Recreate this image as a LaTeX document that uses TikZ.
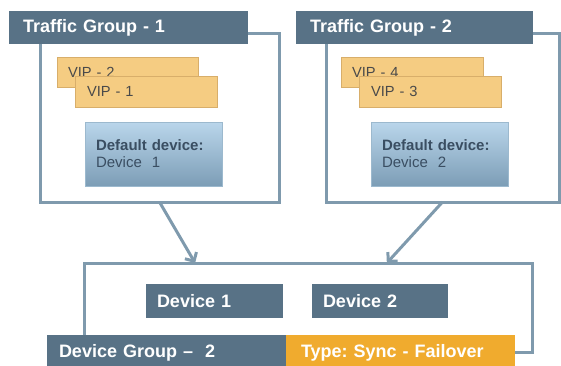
\documentclass[tikz,border=0pt]{standalone}
\usepackage{fontspec}
\setmainfont{Liberation Sans}
\usetikzlibrary{arrows.meta,calc,shadows}
\definecolor{hdr}{HTML}{587286}
\definecolor{lin}{HTML}{7F9AAD}
\definecolor{vipfill}{HTML}{F5CC82}
\definecolor{vipline}{HTML}{D8AE6A}
\definecolor{deftop}{HTML}{BAD6EB}
\definecolor{defbot}{HTML}{7C9DB6}
\definecolor{defline}{HTML}{9CB9CE}
\definecolor{deftext}{HTML}{3A4E62}
\definecolor{viptext}{HTML}{4A4A4A}
\definecolor{orangebar}{HTML}{F0AB2E}
\frenchspacing
\begin{document}
\begin{tikzpicture}[x=0.75pt,y=-0.75pt,
  every node/.style={anchor=north west, outer sep=0pt, inner ysep=0pt, align=left},
  outline/.style={draw=lin, line width=2.25pt, inner sep=0pt},
  header/.style={fill=hdr, text=white, font=\fontsize{13.5}{16}\selectfont\bfseries, inner xsep=10.5pt},
  vip/.style={fill=vipfill, draw=vipline, line width=0.6pt, text=viptext, font=\fontsize{11}{13}\selectfont,
    drop shadow={shadow xshift=0.9pt, shadow yshift=-0.9pt, opacity=0.25, fill=black}},
  defbox/.style={top color=deftop, bottom color=defbot, draw=defline, line width=0.6pt, text=deftext,
    font=\fontsize{11.25}{12.75}\selectfont, inner xsep=8.25pt, text width=86.25pt, minimum height=48pt,
    drop shadow={shadow xshift=0.9pt, shadow yshift=-0.9pt, opacity=0.25, fill=black}},
  devbox/.style={fill=hdr, text=white, font=\fontsize{13.5}{16}\selectfont\bfseries, inner xsep=8.25pt, minimum height=25.5pt},
  bar/.style={text=white, font=\fontsize{13.5}{16}\selectfont\bfseries, minimum height=26.25pt},
  arr/.style={draw=lin, line width=2.25pt, -{Straight Barb[length=5pt, width=10pt]}}
]
\useasboundingbox (0,0) rectangle (561,365);

% Traffic group outlines
\node[outline, minimum width=179.25pt, minimum height=126.75pt] (tg1) at (40,33) {};
\node[outline, minimum width=174.75pt, minimum height=126.75pt] (tg2) at (326,33) {};

% headers
\node[header, text width=158.25pt, minimum height=24.75pt] (h1) at (9,11) {Traffic Group - 1};
\node[header, text width=156.75pt, minimum height=24.75pt] (h2) at (296,11) {Traffic Group - 2};

% VIPs
\node[vip, inner xsep=8.25pt, text width=89.25pt, minimum height=22.5pt] (vip2) at (57,57) {VIP - 2};
\node[vip, inner xsep=9pt, text width=88.5pt, minimum height=23.25pt] (vip1) at (75,76) {VIP - 1};
\node[vip, inner xsep=8.25pt, text width=90pt, minimum height=22.5pt] (vip4) at (341,57) {VIP - 4};
\node[vip, inner xsep=9pt, text width=88.5pt, minimum height=23.25pt] (vip3) at (359,76) {VIP - 3};

% default device boxes
\node[defbox] (def1) at (85,122) {\textbf{Default device:}\\Device\ \ 1};
\node[defbox] (def2) at (371,122) {\textbf{Default device:}\\Device\ \ 2};

% device group outline
\node[outline, minimum width=336pt, minimum height=66.75pt] (dg) at (84,263) {};

% devices
\node[devbox, text width=86.25pt] (dev1) at (146,284) {Device 1};
\node[devbox, text width=85.5pt] (dev2) at (312,284) {Device 2};

% bottom bars
\node[bar, fill=hdr, inner xsep=9pt, text width=161.25pt] (dgbar) at (47,335) {Device Group --\ \ 2};
\node[bar, fill=orangebar, inner xsep=11.25pt, text width=149.25pt] (typebar) at (286,335) {Type: Sync - Failover};

% arrows
\draw[arr] (tg1.south) -- ($(dg.north west)!0.248!(dg.north east)$);
\draw[arr] (tg2.south) -- ($(dg.north west)!0.676!(dg.north east)$);
\end{tikzpicture}
\end{document}
